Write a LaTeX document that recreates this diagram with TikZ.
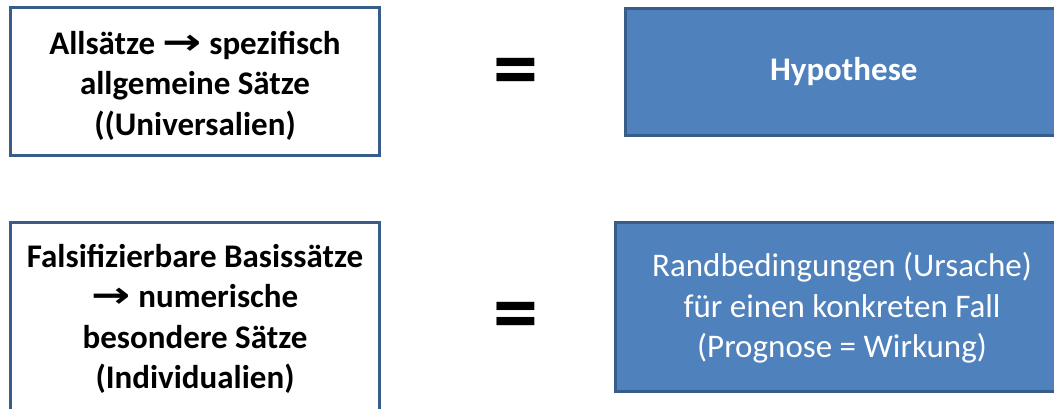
\documentclass[tikz,border=0pt]{standalone}
\usepackage{fontspec}
\setmainfont{Carlito}
\newfontfamily\arrowfont{DejaVu Sans}
\definecolor{boxblue}{HTML}{4F81BD}
\definecolor{boxline}{HTML}{385D8A}
\newcommand{\rarr}{{\arrowfont\fontsize{36}{40.5}\selectfont\bfseries\scalebox{1.3}[1]{→}}}
\begin{document}
\begin{tikzpicture}[x=1pt,y=-1pt,
  box/.style={draw=boxline, line width=3pt, inner sep=0pt},
  whitebox/.style={box, fill=white},
  bluebox/.style={box, fill=boxblue},
  btext/.style={align=center, inner sep=0pt, font=\fontsize{33}{40.5}\selectfont\bfseries},
  wtext/.style={align=center, inner sep=0pt, text=white, font=\fontsize{33}{40.5}\selectfont},
  eqsign/.style={font=\fontsize{90}{90}\selectfont\bfseries, inner sep=0pt}]
\useasboundingbox (0,0) rectangle (1054,409);
\clip (0,0) rectangle (1054,409);
\node[whitebox, minimum width=369pt, minimum height=148pt] (allsaetze) at (195,81.5) {};
\node[btext] (allsaetzetext) at ([yshift=-4pt]allsaetze.center)
  {Allsätze \rarr{} spezifisch\\allgemeine Sätze\\((Universalien)};
\node[whitebox, minimum width=369pt, minimum height=195pt] (basis) at (195,320) {};
\node[btext] (basistext) at ([yshift=1pt]basis.center)
  {Falsifizierbare Basissätze\\\rarr{} numerische\\besondere Sätze\\(Individualien)};
\node[bluebox, minimum width=436.5pt, minimum height=127pt] (hypo) at (843.75,72) {};
\node[wtext, font=\fontsize{33}{40.5}\selectfont\bfseries] (hypotext) at (hypo.center) {Hypothese};
\node[bluebox, minimum width=453pt, minimum height=169pt] (rand) at (842,307) {};
\node[wtext] (randtext) at ([yshift=-1pt]rand.center)
  {Randbedingungen (Ursache)\\für einen konkreten Fall\\(Prognose = Wirkung)};
\node[eqsign] (eq1) at (515.5,78) {=};
\node[eqsign] (eq2) at (515.5,322.5) {=};
\end{tikzpicture}
\end{document}
